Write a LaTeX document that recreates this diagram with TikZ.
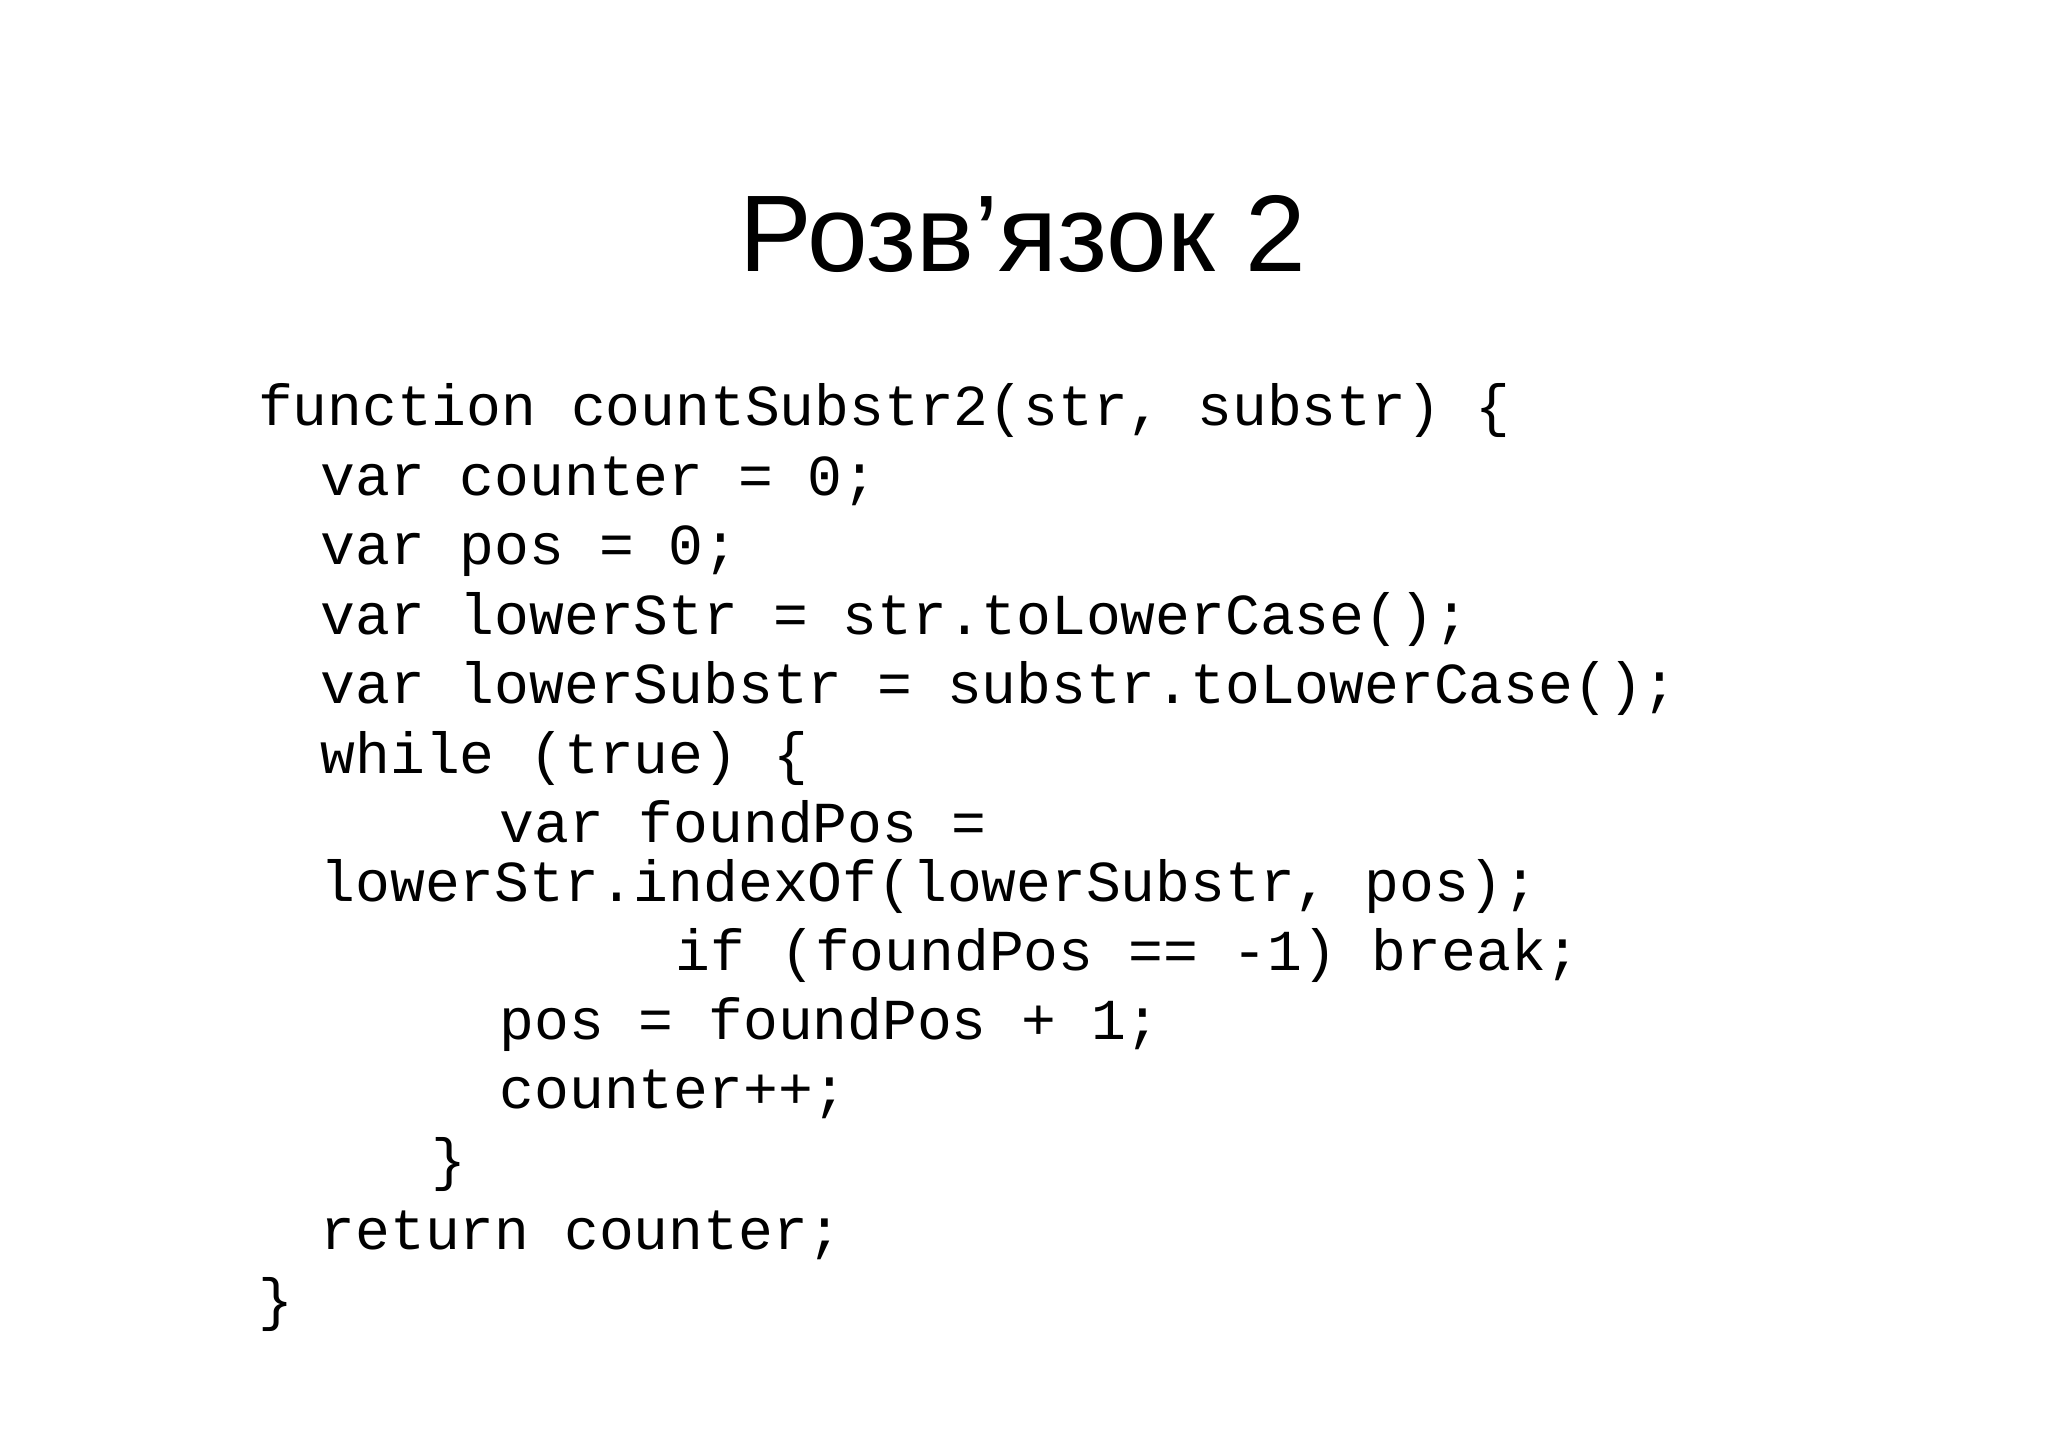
\documentclass[tikz,border=0pt]{standalone}
\usepackage{fontspec}
\setmainfont{Liberation Sans}
\setmonofont{Liberation Mono}
\begin{document}
\begin{tikzpicture}[x=0.01306cm,y=-0.01306cm,
  code/.style={anchor=base west,inner sep=0pt,font=\fontsize{16.5pt}{18pt}\selectfont\ttfamily}]
\useasboundingbox (0,0) rectangle (1568,1108.7);
\fill[white] (0,0) rectangle (1568,1108.7);
\node[anchor=base,inner sep=0pt,font=\fontsize{31pt}{36pt}\selectfont] (title) at (783,208) {Розв’язок 2};
\node[code] (l1) at (197,326) {function countSubstr2(str, substr) \{};
\node[code] (l2) at (245,379) {var counter = 0;};
\node[code] (l3) at (245,432) {var pos = 0;};
\node[code] (l4) at (245,486) {var lowerStr = str.toLowerCase();};
\node[code] (l5) at (245,539) {var lowerSubstr = substr.toLowerCase();};
\node[code] (l6) at (245,592) {while (true) \{};
\node[code] (l7) at (382,645) {var foundPos =};
\node[code] (l8) at (245,690) {lowerStr.indexOf(lowerSubstr, pos);};
\node[code] (l9) at (517,743) {if (foundPos == -1) break;};
\node[code] (l10) at (382,796) {pos = foundPos + 1;};
\node[code] (l11) at (382,849) {counter++;};
\node[code] (l12) at (330,903) {\}};
\node[code] (l13) at (245,957) {return counter;};
\node[code] (l14) at (197,1010) {\}};
\end{tikzpicture}
\end{document}
